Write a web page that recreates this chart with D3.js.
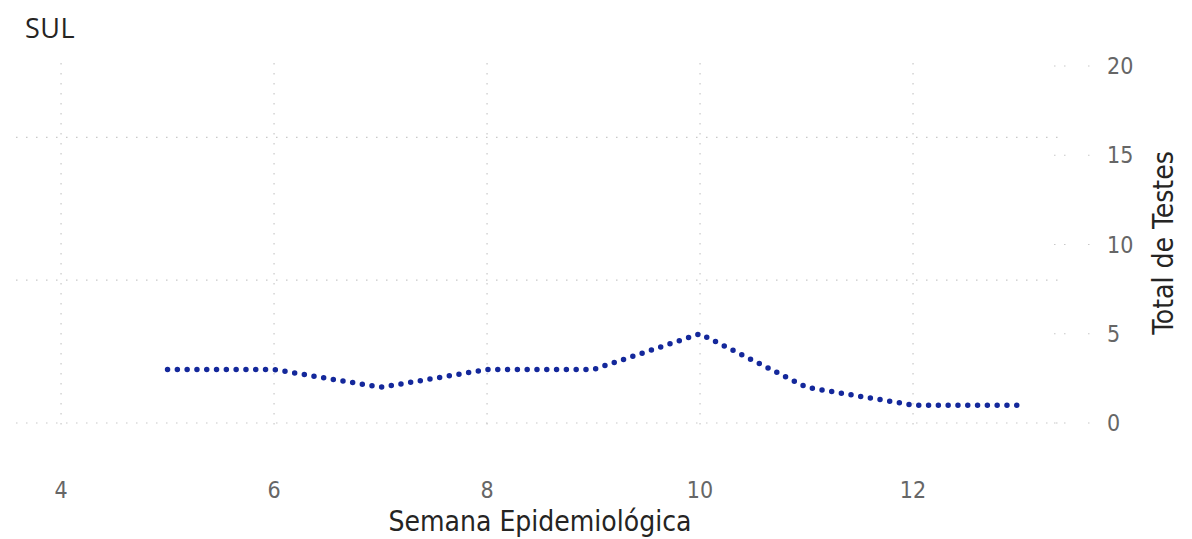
<!DOCTYPE html>
<html>
<head>
<meta charset="utf-8">
<script src="https://cdn.jsdelivr.net/npm/d3@7"></script>
<style>
  body { margin: 0; background: #fff; }
  svg { display: block; }
  .tick-label { font-family: "DejaVu Sans Condensed", "DejaVu Sans", sans-serif; font-stretch: condensed; fill: #666; font-size: 23px; }
  .axis-title { font-family: "DejaVu Sans Condensed", "DejaVu Sans", sans-serif; font-stretch: condensed; fill: #252423; font-size: 28px; }
</style>
</head>
<body>
<svg width="1192" height="539"></svg>
<script>
const weeks = [5, 6, 7, 8, 9, 10, 11, 12, 13];
const totals = [3, 3, 2, 3, 3, 5, 2, 1, 1];
const xTicks = [4, 6, 8, 10, 12];
const yTicks = [0, 5, 10, 15, 20];
const yGrid = [0, 8, 16];

const svg = d3.select('svg');

let x = d3.scaleLinear().domain([3.577, 13.38]).range([16, 1060]);
let y = d3.scaleLinear().domain([0, 20]).range([423, 66]);

// title
svg.append('text')
  .attr('x', 25).attr('y', 38)
  .attr('font-family', 'Open Sans, sans-serif')
  .attr('font-size', 27)
  .attr('letter-spacing', 0.5)
  .attr('fill', '#252423')
  .text('SUL');

let grid = svg.append('g')
  .attr('stroke', '#c8c8c8')
  .attr('stroke-width', 1.2)
  .attr('stroke-dasharray', '1.5 8.5');

// vertical gridlines
xTicks.forEach(t => {
  grid.append('line')
    .attr('x1', x(t)).attr('x2', x(t))
    .attr('y1', 63).attr('y2', 432);
});

// horizontal gridlines
yGrid.forEach(t => {
  grid.append('line')
    .attr('x1', x(3.577)).attr('x2', x(13.38))
    .attr('y1', y(t)).attr('y2', y(t));
});

// little marks next to the y labels
yTicks.forEach(t => {
  grid.append('line')
    .attr('x1', 1054).attr('x2', 1066)
    .attr('y1', y(t)).attr('y2', y(t));
  grid.append('line')
    .attr('x1', 1088).attr('x2', 1090)
    .attr('y1', y(t)).attr('y2', y(t));
});

// x tick labels
svg.append('g').selectAll('text')
  .data(xTicks)
  .join('text')
  .attr('class', 'tick-label')
  .attr('x', d => x(d))
  .attr('y', 498)
  .attr('text-anchor', 'middle')
  .text(d => d);

// y tick labels
svg.append('g').selectAll('text')
  .data(yTicks)
  .join('text')
  .attr('class', 'tick-label')
  .attr('x', 1107)
  .attr('y', d => y(d) + 8)
  .text(d => d);

svg.append('text')
  .attr('class', 'axis-title')
  .attr('x', 540).attr('y', 531)
  .attr('text-anchor', 'middle')
  .text('Semana Epidemiológica');

svg.append('text')
  .attr('class', 'axis-title')
  .attr('transform', 'translate(1173,243) rotate(-90)')
  .attr('text-anchor', 'middle')
  .text('Total de Testes');

// the data line, dotted
let line = d3.line()
  .x((d, i) => x(weeks[i]))
  .y(d => y(d));

svg.append('path')
  .attr('d', line(totals))
  .attr('fill', 'none')
  .attr('stroke', '#14289b')
  .attr('stroke-width', 5.5)
  .attr('stroke-linecap', 'round')
  .attr('stroke-dasharray', '0 9.8');
</script>
</body>
</html>
